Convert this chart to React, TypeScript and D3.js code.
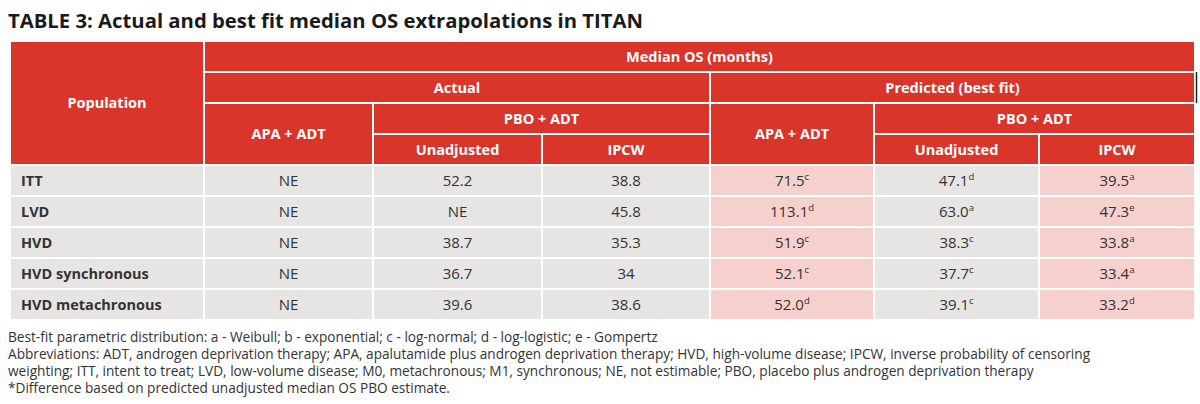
import React from "react";
import * as d3 from "d3";

const title = "TABLE 3: Actual and best fit median OS extrapolations in TITAN";
const populations = ["ITT", "LVD", "HVD", "HVD synchronous", "HVD metachronous"];
const actualApa = ["NE", "NE", "NE", "NE", "NE"];
const actualPboUnadj = ["52.2", "NE", "38.7", "36.7", "39.6"];
const actualPboIpcw = ["38.8", "45.8", "35.3", "34", "38.6"];
const predApa = ["71.5", "113.1", "51.9", "52.1", "52.0"];
const predApaFit = ["c", "d", "c", "c", "d"];
const predPboUnadj = ["47.1", "63.0", "38.3", "37.7", "39.1"];
const predPboUnadjFit = ["d", "a", "c", "c", "c"];
const predPboIpcw = ["39.5", "47.3", "33.8", "33.4", "33.2"];
const predPboIpcwFit = ["a", "e", "a", "a", "d"];
const footnotes = [
  "Best-fit parametric distribution: a - Weibull; b - exponential; c - log-normal; d - log-logistic; e - Gompertz",
  "Abbreviations: ADT, androgen deprivation therapy; APA, apalutamide plus androgen deprivation therapy; HVD, high-volume disease; IPCW, inverse probability of censoring",
  "weighting; ITT, intent to treat; LVD, low-volume disease; M0, metachronous; M1, synchronous; NE, not estimable; PBO, placebo plus androgen deprivation therapy",
  "*Difference based on predicted unadjusted median OS PBO estimate.",
];

const RED = "#d9352a";
const GREY = "#e6e5e3";
const PINK = "#f6d0cc";
const FONT = "'Open Sans', sans-serif";

// column layout
const colWidths = [194, 169, 169, 168, 164, 165, 156];
const tableLeft = 10;
const colEdges = d3.cumsum([0, ...colWidths]).map((v) => v + tableLeft);
const cx = (i: number) => colEdges[i];

const headerTop = 41;
const rowH = 31;
const yRow = d3.scaleLinear().domain([0, 9]).range([headerTop, headerTop + 9 * rowH]);

type Cell = { c0: number; c1: number; r0: number; r1: number; text: string; fill: string; bold?: boolean; sup?: string; anchor?: "start" | "middle" };

export default function App() {
  const cells: Cell[] = [];
  // header
  cells.push({ c0: 0, c1: 1, r0: 0, r1: 4, text: "Population", fill: RED, bold: true });
  cells.push({ c0: 1, c1: 7, r0: 0, r1: 1, text: "Median OS (months)", fill: RED, bold: true });
  cells.push({ c0: 1, c1: 4, r0: 1, r1: 2, text: "Actual", fill: RED, bold: true });
  cells.push({ c0: 4, c1: 7, r0: 1, r1: 2, text: "Predicted (best fit)", fill: RED, bold: true });
  cells.push({ c0: 1, c1: 2, r0: 2, r1: 4, text: "APA + ADT", fill: RED, bold: true });
  cells.push({ c0: 2, c1: 4, r0: 2, r1: 3, text: "PBO + ADT", fill: RED, bold: true });
  cells.push({ c0: 4, c1: 5, r0: 2, r1: 4, text: "APA + ADT", fill: RED, bold: true });
  cells.push({ c0: 5, c1: 7, r0: 2, r1: 3, text: "PBO + ADT", fill: RED, bold: true });
  cells.push({ c0: 2, c1: 3, r0: 3, r1: 4, text: "Unadjusted", fill: RED, bold: true });
  cells.push({ c0: 3, c1: 4, r0: 3, r1: 4, text: "IPCW", fill: RED, bold: true });
  cells.push({ c0: 5, c1: 6, r0: 3, r1: 4, text: "Unadjusted", fill: RED, bold: true });
  cells.push({ c0: 6, c1: 7, r0: 3, r1: 4, text: "IPCW", fill: RED, bold: true });
  populations.forEach((p, i) => {
    const r = 4 + i;
    cells.push({ c0: 0, c1: 1, r0: r, r1: r + 1, text: p, fill: GREY, bold: true, anchor: "start" });
    cells.push({ c0: 1, c1: 2, r0: r, r1: r + 1, text: actualApa[i], fill: GREY });
    cells.push({ c0: 2, c1: 3, r0: r, r1: r + 1, text: actualPboUnadj[i], fill: GREY });
    cells.push({ c0: 3, c1: 4, r0: r, r1: r + 1, text: actualPboIpcw[i], fill: GREY });
    cells.push({ c0: 4, c1: 5, r0: r, r1: r + 1, text: predApa[i], sup: predApaFit[i], fill: PINK });
    cells.push({ c0: 5, c1: 6, r0: r, r1: r + 1, text: predPboUnadj[i], sup: predPboUnadjFit[i], fill: GREY });
    cells.push({ c0: 6, c1: 7, r0: r, r1: r + 1, text: predPboIpcw[i], sup: predPboIpcwFit[i], fill: PINK });
  });

  return (
    <svg width={1200} height={404} style={{ position: "absolute", left: 0, top: 0, background: "#fff" }} fontFamily={FONT}>
      <rect width={1200} height={404} fill="#fff" />
      <text x={8} y={28} fontSize={20.3} fontWeight={700} fill="#1a1a1a">{title}</text>
      {cells.map((c, k) => {
        const x0 = cx(c.c0), x1 = cx(c.c1), y0 = yRow(c.r0), y1 = yRow(c.r1);
        const isHeader = c.fill === RED;
        const tx = c.anchor === "start" ? x0 + 11 : (x0 + x1) / 2;
        return (
          <g key={k}>
            <rect x={x0} y={y0} width={x1 - x0} height={y1 - y0} fill={c.fill} stroke="#fff" strokeWidth={2} />
            <text
              x={tx}
              y={(y0 + y1) / 2 + 5}
              textAnchor={c.anchor || "middle"}
              fontSize={c.bold ? 14.5 : 15}
              fontWeight={c.bold ? 700 : 400}
              fill={isHeader ? "#fff" : "#333"}
            >
              {c.text}
              {c.sup && (
                <tspan fontSize={9.5} dy={-6}>{c.sup}</tspan>
              )}
            </text>
          </g>
        );
      })}
      <line x1={1196.5} x2={1196.5} y1={yRow(1)} y2={yRow(2)} stroke="#222" strokeWidth={1.5} />
      {footnotes.map((f, i) => (
        <text key={i} x={8} y={342 + i * 17} fontSize={13.65} fill="#333">{f}</text>
      ))}
    </svg>
  );
}
